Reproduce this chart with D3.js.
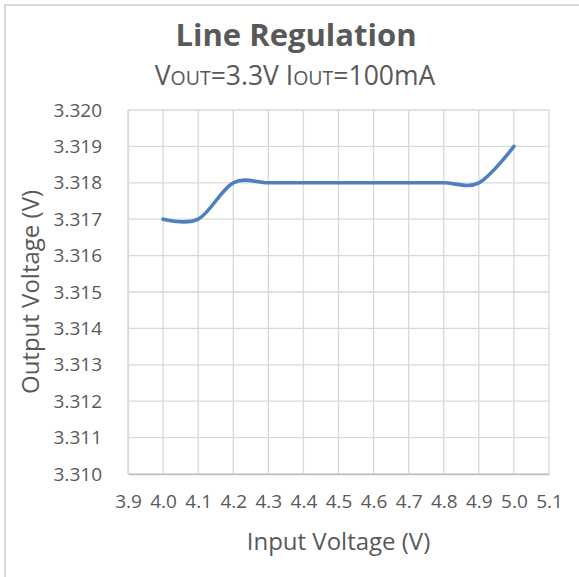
<!DOCTYPE html>
<html>
<head>
<meta charset="utf-8">
<script src="https://cdn.jsdelivr.net/npm/d3@7"></script>
<style>
  html, body { margin: 0; padding: 0; background: #fff; }
  text { font-family: "Open Sans", "Liberation Sans", sans-serif; fill: #595959; }
</style>
</head>
<body>
<script>
const inputV  = [4.0, 4.1, 4.2, 4.3, 4.4, 4.5, 4.6, 4.7, 4.8, 4.9, 5.0];
const outputV = [3.317, 3.317, 3.318, 3.318, 3.318, 3.318, 3.318, 3.318, 3.318, 3.318, 3.319];
const xTicks  = [3.9, 4.0, 4.1, 4.2, 4.3, 4.4, 4.5, 4.6, 4.7, 4.8, 4.9, 5.0, 5.1];
const yTicks  = [3.310, 3.311, 3.312, 3.313, 3.314, 3.315, 3.316, 3.317, 3.318, 3.319, 3.320];

const W = 579, H = 577;
const m = { left: 128, right: 30, top: 110, bottom: 103 };

const svg = d3.select('body').append('svg')
    .attr('width', W).attr('height', H);

// chart frame (only top and left edges fall inside the picture)
svg.append('rect')
    .attr('x', 5).attr('y', 5).attr('width', W + 10).attr('height', H + 10)
    .attr('fill', '#fff').attr('stroke', '#d9d9d9').attr('stroke-width', 2);

const x = d3.scaleLinear().domain([3.9, 5.1]).range([m.left, W - m.right]);
const y = d3.scaleLinear().domain([3.310, 3.320]).range([H - m.bottom, m.top]);

const g = svg.append('g');

// grid
g.selectAll('line.vgrid').data(xTicks).join('line')
    .attr('class', 'vgrid')
    .attr('x1', d => x(d)).attr('x2', d => x(d))
    .attr('y1', y(3.320)).attr('y2', y(3.310))
    .attr('stroke', '#d9d9d9').attr('stroke-width', 1.3);

g.selectAll('line.hgrid').data(yTicks).join('line')
    .attr('class', 'hgrid')
    .attr('x1', x(3.9)).attr('x2', x(5.1))
    .attr('y1', d => y(d)).attr('y2', d => y(d))
    .attr('stroke', '#d9d9d9').attr('stroke-width', 1.3);

// axes
const xAxis = svg.append('g')
    .attr('transform', `translate(0,${y(3.310)})`)
    .call(d3.axisBottom(x).tickValues(xTicks).tickFormat(d3.format('.1f')).tickSize(0));
xAxis.select('.domain').attr('stroke', '#bfbfbf').attr('stroke-width', 1.5);
xAxis.selectAll('text')
    .attr('font-size', 19).attr('fill', '#595959')
    .attr('dy', null).attr('y', 34);

const yAxis = svg.append('g')
    .attr('transform', `translate(${x(3.9)},0)`)
    .call(d3.axisLeft(y).tickValues(yTicks).tickFormat(d3.format('.3f')).tickSize(0).tickPadding(26));
yAxis.select('.domain').attr('stroke', '#d9d9d9').attr('stroke-width', 1.3);
yAxis.selectAll('text').attr('font-size', 19).attr('fill', '#595959');

// series, smoothed like the spreadsheet line
const line = d3.line()
    .x((d, i) => x(inputV[i]))
    .y(d => y(d))
    .curve(d3.curveCatmullRom.alpha(0));

svg.append('path')
    .datum(outputV)
    .attr('d', line)
    .attr('fill', 'none')
    .attr('stroke', '#4f7fbf')
    .attr('stroke-width', 3.6)
    .attr('stroke-linecap', 'round');

// titles
svg.append('text')
    .attr('x', 296).attr('y', 46)
    .attr('text-anchor', 'middle')
    .attr('font-size', 31).attr('font-weight', 'bold')
    .text('Line Regulation');

const sub = svg.append('text')
    .attr('x', 295).attr('y', 85)
    .attr('text-anchor', 'middle')
    .attr('font-size', 26.5);
sub.append('tspan').text('V');
sub.append('tspan').attr('font-size', 19.5).text('OUT');
sub.append('tspan').text('=3.3V I');
sub.append('tspan').attr('font-size', 19.5).text('OUT');
sub.append('tspan').text('=100mA');

svg.append('text')
    .attr('x', (x(3.9) + x(5.1)) / 2).attr('y', 550)
    .attr('text-anchor', 'middle')
    .attr('font-size', 24)
    .text('Input Voltage (V)');

svg.append('text')
    .attr('transform', `translate(39,${(y(3.310) + y(3.320)) / 2}) rotate(-90)`)
    .attr('text-anchor', 'middle')
    .attr('font-size', 24)
    .text('Output Voltage (V)');
</script>
</body>
</html>
